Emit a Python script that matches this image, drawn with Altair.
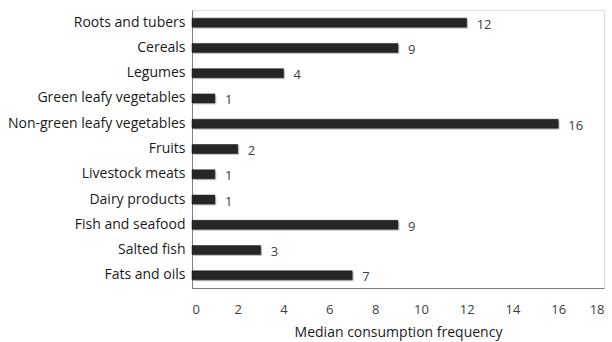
import altair as alt
import pandas as pd

categories = [
    "Roots and tubers", "Cereals", "Legumes", "Green leafy vegetables",
    "Non-green leafy vegetables", "Fruits", "Livestock meats", "Dairy products",
    "Fish and seafood", "Salted fish", "Fats and oils",
]
values = [12, 9, 4, 1, 16, 2, 1, 1, 9, 3, 7]

df = pd.DataFrame({"food": categories, "median": values})

FONT = "Open Sans"
TEXT = "#404040"

y = alt.Y("food:N", sort=categories, title=None,
          scale=alt.Scale(paddingInner=0.0, paddingOuter=0.0),
          axis=alt.Axis(ticks=False, domainColor="#7f7f7f", labelFont=FONT,
                        labelFontSize=14, labelColor="#1a1a1a", labelPadding=7))
x = alt.X("median:Q", title="Median consumption frequency",
          scale=alt.Scale(domain=[0, 18]),
          axis=alt.Axis(values=list(range(0, 19, 2)), ticks=False, grid=False,
                        domainColor="#7f7f7f", labelFont=FONT, labelFontSize=13,
                        labelColor=TEXT, labelPadding=15, titleFont=FONT,
                        titleFontSize=14, titleFontWeight="normal",
                        titleColor="#1a1a1a", titlePadding=9))

base = alt.Chart(df)

shadow = base.mark_bar(size=9, color="#9a9a9a", opacity=0.55, xOffset=1.5, yOffset=1.5).encode(x=x, y=y)
bars = base.mark_bar(size=9, color="#262626", stroke="#111111", strokeWidth=0.5).encode(x=x, y=y)
labels = base.mark_text(align="left", dx=10, dy=2, font=FONT, fontSize=13, color=TEXT).encode(
    x=x, y=y, text="median:Q")

chart = (shadow + bars + labels).properties(
    width=412, height=278,
    autosize=alt.AutoSizeParams(type="none"),
    padding={"left": 192, "top": 10, "right": 8, "bottom": 54},
).configure_view(stroke=None).configure(background="white")

chart.save("out.html", embed_options={"renderer": "svg", "actions": False})
